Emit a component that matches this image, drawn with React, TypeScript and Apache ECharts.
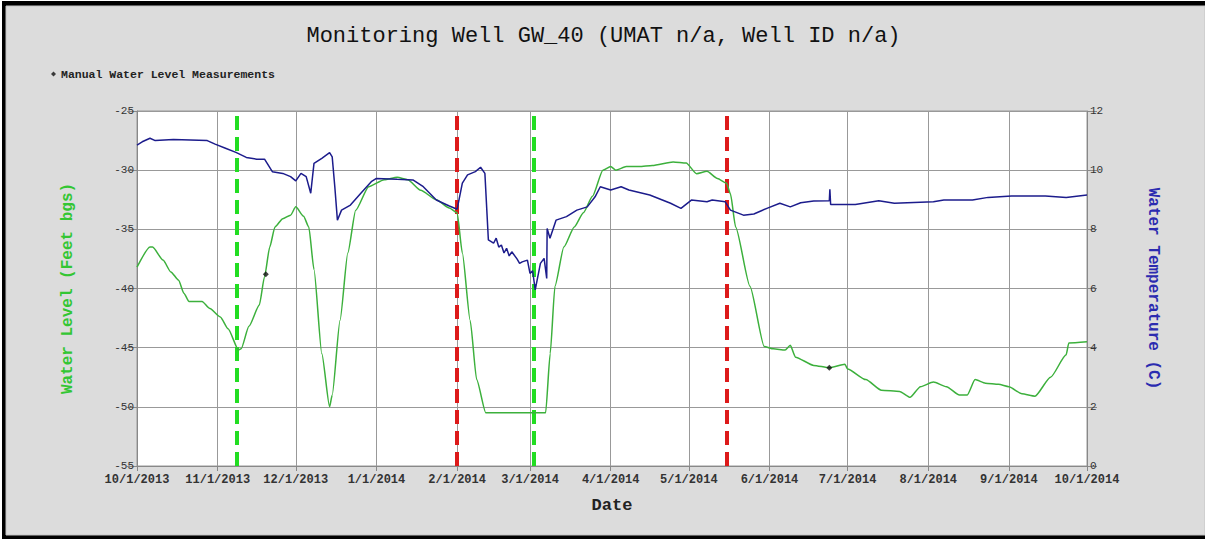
import React, { useEffect, useRef } from "react";
import * as echarts from "echarts";

// ---- Data ----
const levelDates = [
  "2013-10-01", "2013-10-06", "2013-10-07", "2013-10-11", "2013-10-14", "2013-10-17", "2013-10-19",
  "2013-10-21", "2013-10-26", "2013-10-29", "2013-11-02", "2013-11-05", "2013-11-09", "2013-11-10",
  "2013-11-13", "2013-11-17", "2013-11-19", "2013-11-21", "2013-11-23", "2013-11-26", "2013-11-29",
  "2013-12-01", "2013-12-04", "2013-12-06", "2013-12-08", "2013-12-11", "2013-12-14", "2013-12-15",
  "2013-12-18", "2013-12-21", "2013-12-24", "2013-12-29", "2014-01-04", "2014-01-09", "2014-01-13",
  "2014-01-18", "2014-01-24", "2014-01-29", "2014-02-01", "2014-02-03", "2014-02-06", "2014-02-08 12:00",
  "2014-02-12", "2014-03-07", "2014-03-08 18:00", "2014-03-10 14:00", "2014-03-14", "2014-03-18",
  "2014-03-21 12:00", "2014-03-25", "2014-03-29", "2014-04-01", "2014-04-03", "2014-04-07", "2014-04-12",
  "2014-04-17", "2014-04-25", "2014-04-30", "2014-05-04", "2014-05-08", "2014-05-12", "2014-05-15 12:00",
  "2014-05-17", "2014-05-19", "2014-05-24 12:00", "2014-05-30", "2014-06-02 12:00", "2014-06-07",
  "2014-06-09", "2014-06-11", "2014-06-18", "2014-06-24", "2014-06-30", "2014-07-01", "2014-07-08",
  "2014-07-14", "2014-07-21", "2014-07-25", "2014-07-29", "2014-08-03", "2014-08-08", "2014-08-13",
  "2014-08-16", "2014-08-19", "2014-08-23", "2014-08-28", "2014-09-01", "2014-09-06", "2014-09-11",
  "2014-09-17", "2014-09-23", "2014-09-24", "2014-10-01",
];
const levelValues = [
  -38.2, -36.5, -36.5, -37.6, -38.6, -39.3, -40.4,
  -41.1, -41.1, -41.7, -42.4, -43.4, -45.2, -45.1,
  -43.2, -41.4, -39.0, -36.5, -34.8, -34.1, -33.8,
  -33.1, -33.9, -34.8, -38.4, -45.5, -50.0, -49.0,
  -42.7, -37.0, -33.4, -31.4, -30.8, -30.6, -30.8,
  -31.7, -32.5, -33.2, -33.6, -37.0, -42.7, -47.7,
  -50.5, -50.5, -45.5, -39.8, -36.5, -34.8,
  -33.6, -32.2, -30.0, -29.7, -30.0, -29.7, -29.7,
  -29.6, -29.3, -29.4, -30.3, -30.1, -30.7, -31.1,
  -32.0, -34.8, -39.8, -44.9, -45.1, -45.2,
  -44.8, -45.8, -46.5, -46.7, -46.4, -46.8, -47.7,
  -48.6, -48.7, -49.2, -48.3, -47.9, -48.3, -49.0,
  -49.0, -47.7, -48.0, -48.1, -48.3, -48.9, -49.1,
  -47.5, -45.6, -44.6, -44.5,
];

const tempDates = [
  "2013-10-01", "2013-10-03", "2013-10-06", "2013-10-08", "2013-10-15", "2013-10-28", "2013-10-31",
  "2013-11-04", "2013-11-08", "2013-11-12", "2013-11-16", "2013-11-19", "2013-11-22", "2013-11-26",
  "2013-11-29", "2013-12-01", "2013-12-03", "2013-12-05", "2013-12-06 18:00", "2013-12-08", "2013-12-11",
  "2013-12-14", "2013-12-15", "2013-12-16", "2013-12-17", "2013-12-18 14:00", "2013-12-22", "2013-12-26",
  "2013-12-30", "2014-01-01", "2014-01-09", "2014-01-15", "2014-01-19", "2014-01-24", "2014-01-29",
  "2014-02-01", "2014-02-03", "2014-02-05", "2014-02-08", "2014-02-10", "2014-02-11 16:00", "2014-02-13",
  "2014-02-15", "2014-02-16", "2014-02-17", "2014-02-18", "2014-02-19", "2014-02-20", "2014-02-21",
  "2014-02-22", "2014-02-24", "2014-02-25", "2014-02-26", "2014-02-28", "2014-03-01", "2014-03-02",
  "2014-03-03", "2014-03-05", "2014-03-06 10:00", "2014-03-07 10:00", "2014-03-07 14:00", "2014-03-08 16:00",
  "2014-03-11", "2014-03-15", "2014-03-19", "2014-03-23", "2014-03-26", "2014-03-28", "2014-04-01",
  "2014-04-05", "2014-04-08", "2014-04-16", "2014-04-24", "2014-04-28", "2014-05-02", "2014-05-08",
  "2014-05-10", "2014-05-15", "2014-05-17", "2014-05-22", "2014-05-26", "2014-05-31", "2014-06-05",
  "2014-06-09", "2014-06-13", "2014-06-18", "2014-06-24", "2014-06-24 05:00", "2014-06-24 12:00",
  "2014-07-04", "2014-07-13", "2014-07-19", "2014-08-03", "2014-08-07", "2014-08-18", "2014-08-24",
  "2014-09-02", "2014-09-15", "2014-09-23", "2014-10-01",
];
const tempValues = [
  10.85, 10.96, 11.08, 11.0, 11.04, 11.0, 10.88,
  10.74, 10.6, 10.43, 10.37, 10.37, 9.95, 9.89,
  9.78, 9.64, 9.89, 9.78, 9.22, 10.23, 10.4,
  10.59, 10.45, 9.44, 8.31, 8.65, 8.82, 9.22,
  9.61, 9.72, 9.69, 9.67, 9.44, 8.99, 8.79,
  8.68, 9.56, 9.84, 9.95, 10.1, 9.89, 7.64,
  7.53, 7.7, 7.4, 7.47, 7.2, 7.36, 7.1,
  7.24, 7.0, 6.85, 6.9, 6.96, 6.51, 6.6,
  5.95, 6.85, 7.02, 6.34, 8.03, 7.7,
  8.31, 8.43, 8.65, 8.76, 9.1, 9.44, 9.33,
  9.44, 9.33, 9.16, 8.88, 8.71, 8.99, 8.93,
  8.99, 8.93, 8.65, 8.48, 8.52, 8.71, 8.88,
  8.76, 8.9, 8.96, 8.97, 9.35, 8.84,
  8.84, 8.97, 8.88, 8.93, 8.99, 8.99, 9.08,
  9.13, 9.13, 9.08, 9.16,
];

const manualDates = ["2013-11-19 12:00", "2014-06-24"];
const manualValues = [-38.8, -46.7];

const greenEventDates = ["2013-11-08 10:00", "2014-03-02 12:00"];
const redEventDates = ["2014-01-31 20:00", "2014-05-15 17:00"];

const xMin = "2013-10-01";
const xMax = "2014-10-01";
const levelMin = -55;
const levelMax = -25;
const levelStep = 5;
const tempMin = 0;
const tempMax = 12;
const tempStep = 2;

const TITLE = "Monitoring Well GW_40 (UMAT n/a, Well ID n/a)";
const MONO = "'Liberation Mono', 'Courier New', monospace";

export default function App() {
  const ref = useRef<HTMLDivElement>(null);

  useEffect(() => {
    if (!ref.current) return;
    const chart = echarts.init(ref.current, undefined, { renderer: "svg" });

    const levelData = levelDates.map((d, i) => [d, levelValues[i]]);
    const tempData = tempDates.map((d, i) => [d, tempValues[i]]);
    const manualData = manualDates.map((d, i) => [d, manualValues[i]]);

    const eventLines = [
      ...greenEventDates.map((d) => ({ xAxis: d, lineStyle: { color: "#22dd22" } })),
      ...redEventDates.map((d) => ({ xAxis: d, lineStyle: { color: "#dd1a1a" } })),
    ];

    const fmtDate = (v: number) => {
      const d = new Date(v);
      return `${d.getMonth() + 1}/${d.getDate()}/${d.getFullYear()}`;
    };

    chart.setOption({
      animation: false,
      backgroundColor: "#ffffff",
      graphic: [
        { type: "rect", z: -10, shape: { x: 2, y: 1, width: 1203, height: 538 }, style: { fill: "#000000" } },
        { type: "rect", z: -9, shape: { x: 6, y: 6, width: 1199, height: 529 }, style: { fill: "#dcdcdc", stroke: "#c4c4c4", lineWidth: 1 } },
        { type: "rect", z: -9, shape: { x: 1205, y: 0, width: 2, height: 539 }, style: { fill: "#ffffff" } },
      ],
      title: {
        text: TITLE,
        left: "center",
        top: 20,
        textStyle: { fontFamily: MONO, fontSize: 22, fontWeight: "normal", color: "#111" },
      },
      legend: {
        left: 46,
        top: 63,
        data: ["Manual Water Level Measurements"],
        itemWidth: 5,
        itemHeight: 5,
        itemGap: 4,
        textStyle: { fontFamily: MONO, fontSize: 11.5, fontWeight: "bold", color: "#222" },
      },
      grid: {
        left: 137,
        right: 120,
        top: 111,
        bottom: 73,
        show: true,
        backgroundColor: "#ffffff",
        borderColor: "#999",
        borderWidth: 1,
      },
      xAxis: {
        type: "time",
        min: xMin,
        max: xMax,
        splitNumber: 12,
        name: "Date",
        nameLocation: "middle",
        nameGap: 31,
        nameTextStyle: { fontFamily: MONO, fontSize: 17, fontWeight: "bold", color: "#222" },
        axisLine: { lineStyle: { color: "#888" } },
        axisTick: { show: true, length: 5, lineStyle: { color: "#888" } },
        minorTick: { show: false },
        splitLine: { show: true, lineStyle: { color: "#999", width: 1 } },
        axisLabel: {
          formatter: fmtDate,
          fontFamily: MONO,
          fontSize: 12,
          fontWeight: "bold",
          color: "#333",
          margin: 8,
          showMinLabel: true,
          showMaxLabel: true,
          hideOverlap: false,
        },
      },
      yAxis: [
        {
          type: "value",
          min: levelMin,
          max: levelMax,
          interval: levelStep,
          name: "Water Level (Feet bgs)",
          nameLocation: "middle",
          nameRotate: 90,
          nameGap: 61,
          nameTextStyle: { fontFamily: MONO, fontSize: 16, fontWeight: "bold", color: "#33c633" },
          axisLine: { show: true, lineStyle: { color: "#888" } },
          axisTick: { show: true, length: 10, lineStyle: { color: "#888" } },
          splitLine: { show: true, lineStyle: { color: "#999", width: 1 } },
          axisLabel: { fontFamily: MONO, fontSize: 11, color: "#333", margin: 3 },
        },
        {
          type: "value",
          min: tempMin,
          max: tempMax,
          interval: tempStep,
          position: "right",
          name: "Water Temperature (C)",
          nameLocation: "middle",
          nameRotate: -90,
          nameGap: 58,
          nameTextStyle: { fontFamily: MONO, fontSize: 16, fontWeight: "bold", color: "#2b2bb0" },
          axisLine: { show: true, lineStyle: { color: "#888" } },
          axisTick: { show: true, length: 10, lineStyle: { color: "#888" } },
          splitLine: { show: false },
          axisLabel: { fontFamily: MONO, fontSize: 11, color: "#333", margin: 3 },
        },
      ],
      series: [
        {
          name: "Water Level",
          type: "line",
          yAxisIndex: 0,
          data: levelData,
          showSymbol: false,
          symbol: "none",
          smooth: 0.2,
          smoothMonotone: "x",
          lineStyle: { color: "#3cb03c", width: 1.5 },
          z: 3,
          markLine: {
            silent: true,
            symbol: ["none", "none"],
            label: { show: false },
            lineStyle: { type: [14, 7], width: 4 },
            data: eventLines,
            z: 2,
          },
        },
        {
          name: "Water Temperature",
          type: "line",
          yAxisIndex: 1,
          data: tempData,
          showSymbol: false,
          symbol: "none",
          lineStyle: { color: "#1c1c8c", width: 1.5 },
          z: 4,
        },
        {
          name: "Manual Water Level Measurements",
          type: "scatter",
          yAxisIndex: 0,
          data: manualData,
          symbol: "diamond",
          symbolSize: 6,
          itemStyle: { color: "#111" },
          z: 6,
        },
      ],
    });

    return () => chart.dispose();
  }, []);

  return (
    <div
      ref={ref}
      style={{ position: "fixed", left: 0, top: 0, width: 1207, height: 539 }}
    />
  );
}
